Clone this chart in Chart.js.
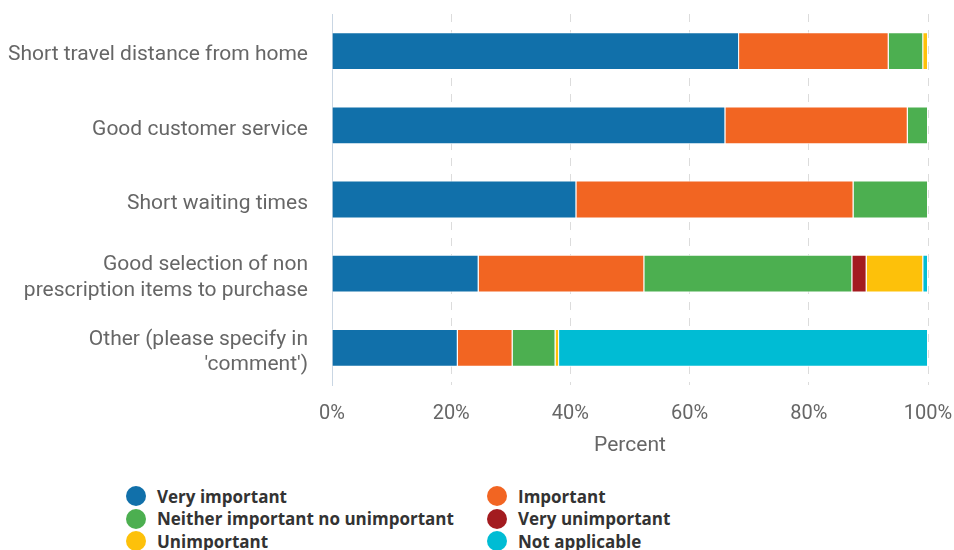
<!DOCTYPE html>
<html>
<head>
<meta charset="utf-8">
<script src="https://cdn.jsdelivr.net/npm/chart.js@4.4.1/dist/chart.umd.min.js"></script>
<style>
  html, body { margin: 0; padding: 0; background: #fff; }
  body { width: 954px; height: 550px; overflow: hidden; font-family: Roboto, "Noto Sans", sans-serif; }
  #wrap { position: relative; width: 954px; height: 459px; }
  #legend { position: absolute; left: 126px; top: 486px; display: grid; grid-template-columns: 361px 300px; row-gap: 2.5px; }
  .item { display: flex; align-items: center; height: 20px; font-family: "Open Sans", sans-serif; font-weight: bold; font-size: 17px; color: #333; white-space: nowrap; }
  .dot { width: 20px; height: 20px; border-radius: 50%; margin-right: 11px; flex: none; }
</style>
</head>
<body>
<div id="wrap"><canvas id="chart"></canvas></div>
<div id="legend"></div>
<script>
// Categories and series (percent of respondents)
const categories = [
    'Short travel distance from home',
    'Good customer service',
    'Short waiting times',
    ['Good selection of non', 'prescription items to purchase'],
    ['Other (please specify in', '\'comment\')']
];
const seriesNames = [
    'Very important',
    'Important',
    'Neither important no unimportant',
    'Very unimportant',
    'Unimportant',
    'Not applicable'
];
const veryImportant = [68.3, 66.0, 41.0, 24.6, 21.1];
const important = [25.1, 30.6, 46.5, 27.8, 9.2];
const neither = [5.8, 3.4, 12.5, 34.9, 7.2];
const veryUnimportant = [0, 0, 0, 2.4, 0];
const unimportant = [0.8, 0, 0, 9.5, 0.6];
const notApplicable = [0, 0, 0, 0.8, 61.9];
const xTicks = [0, 20, 40, 60, 80, 100];

const colors = ['#1170aa', '#f26522', '#4caf50', '#a31b1f', '#fdc10a', '#00bcd4'];
const values = [veryImportant, important, neither, veryUnimportant, unimportant, notApplicable];

const ctx = document.getElementById('chart').getContext('2d');
const chart = new Chart(ctx, {
    type: 'bar',
    data: {
        labels: categories,
        datasets: seriesNames.map((name, i) => ({
            label: name,
            data: values[i],
            backgroundColor: colors[i],
            borderColor: '#ffffff',
            borderWidth: 1,
            barPercentage: 0.51,
            categoryPercentage: 1
        }))
    },
    options: {
        indexAxis: 'y',
        responsive: true,
        maintainAspectRatio: false,
        animation: false,
        layout: { padding: { top: 14, right: 26, left: 0, bottom: 0 } },
        plugins: {
            legend: { display: false },
            tooltip: { enabled: false }
        },
        scales: {
            x: {
                stacked: true,
                min: 0,
                max: 100,
                afterBuildTicks: axis => { axis.ticks = xTicks.map(v => ({ value: v })); },
                ticks: {
                    callback: v => v + '%',
                    color: '#666',
                    font: { family: 'Roboto', size: 20 },
                    padding: 0
                },
                grid: {
                    color: '#dcdcdc',
                    drawTicks: true,
                    tickLength: 17,
                    tickColor: 'rgba(0,0,0,0)',
                    tickBorderDash: [6, 6]
                },
                border: { display: false, dash: [8, 8] },
                title: {
                    display: true,
                    text: 'Percent',
                    color: '#666',
                    font: { family: 'Roboto', size: 21 },
                    padding: { top: 0, bottom: 1 }
                },
                afterFit: axis => { axis.height = 74; }
            },
            y: {
                stacked: true,
                ticks: {
                    color: '#666',
                    font: { family: 'Roboto', size: 21 },
                    padding: 0,
                    labelOffset: 4
                },
                grid: {
                    display: true,
                    drawOnChartArea: false,
                    drawTicks: true,
                    tickLength: 24,
                    color: 'rgba(0,0,0,0)'
                },
                border: { display: true, color: '#c9d6e3', width: 1 },
                afterFit: axis => {
                    axis.width = 332;
                    axis.paddingTop = 0;
                    axis.paddingBottom = 0;
                }
            }
        }
    }
});

// legend built from the datasets
const legend = document.getElementById('legend');
chart.data.datasets.forEach(ds => {
    const item = document.createElement('div');
    item.className = 'item';
    item.innerHTML = '<span class="dot" style="background:' + ds.backgroundColor + '"></span>' + ds.label;
    legend.appendChild(item);
});
</script>
</body>
</html>
